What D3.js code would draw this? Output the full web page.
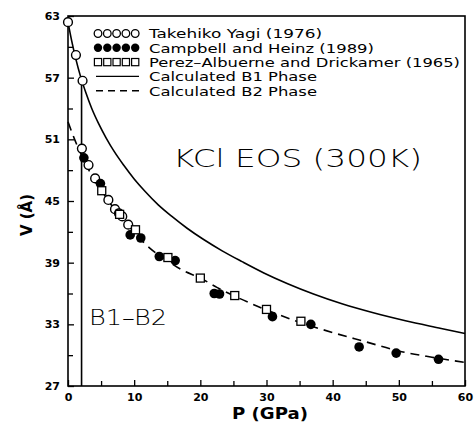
<!DOCTYPE html>
<html><head><meta charset="utf-8">
<script src="https://cdn.jsdelivr.net/npm/d3@7"></script>
<style>
html,body{margin:0;padding:0;background:#fff;}
svg{display:block;}
text{font-family:"DejaVu Sans",sans-serif;fill:#000;}
</style></head>
<body>
<svg id="chart" width="474" height="423"></svg>
<script>
// ---- data ----
const yagiP = [0, 1.2, 2.2, 2.1, 3.1, 4.1, 6.1, 7.1, 7.7, 8.2, 9.1];
const yagiV = [62.4, 59.2, 56.7, 50.1, 48.5, 47.2, 45.1, 44.2, 43.8, 43.5, 42.7];

const campP = [2.4, 4.9, 9.4, 11.0, 13.8, 16.2, 22.1, 22.9, 30.9, 36.7, 44.0, 49.6, 56.0];
const campV = [49.2, 46.7, 41.7, 41.4, 39.6, 39.2, 36.0, 35.95, 33.75, 33.0, 30.8, 30.2, 29.6];

const perezP = [5.1, 7.8, 10.2, 15.1, 20.0, 25.2, 30.0, 35.2];
const perezV = [46.0, 43.7, 42.2, 39.5, 37.5, 35.8, 34.45, 33.3];

const b1P = [0, 0.55, 1.17, 1.88, 2.69, 3.59, 4.61, 5.75, 7.0, 8.4, 10.0, 11.7, 13.6, 15.7, 18.0, 20.5, 23.3, 26.3, 29.6, 33.2, 37.1, 41.4, 46.0, 51.0, 56.4, 60];
const b1V = [62.4, 60.6, 58.85, 57.15, 55.55, 54.0, 52.55, 51.15, 49.8, 48.5, 47.15, 45.9, 44.65, 43.5, 42.35, 41.25, 40.15, 39.1, 38.0, 36.95, 35.95, 35.0, 34.15, 33.35, 32.6, 32.1];

const b2P = [0, 1, 2, 3, 4, 5, 6, 8, 10, 12.4, 15, 17.2, 20, 22.5, 25, 30, 35, 40, 45, 50, 55, 60];
const b2V = [52.7, 51.0, 49.5, 48.2, 47.0, 46.1, 45.1, 43.5, 41.95, 40.4, 39.2, 38.3, 37.5, 36.6, 35.8, 34.4, 33.2, 32.2, 31.3, 30.4, 29.8, 29.3];

const transitionP = 2.05;
const transitionV = 57.0;

const xMajor = [0, 10, 20, 30, 40, 50, 60];
const xMinor = [5, 15, 25, 35, 45, 55];
const yMajor = [27, 33, 39, 45, 51, 57, 63];
const yMinor = [30, 36, 42, 48, 54, 60];

const legendLabels = ["Takehiko Yagi (1976)", "Campbell and Heinz (1989)", "Perez\u2013Albuerne and Drickamer (1965)", "Calculated B1 Phase", "Calculated B2 Phase"];
const legendWidths = [173, 225, 311, 168, 168];

const titleText = "KCl EOS (300K)";
const phaseText = "B1\u2013B2";
const xLabel = "P (GPa)";
const yLabel = "V (\u00C5)";

// ---- drawing ----
const svg = d3.select("#chart");
const L = 68, R = 465, T = 16, B = 386;
const x = d3.scaleLinear().domain([0, 60]).range([L, R]);
const y = d3.scaleLinear().domain([27, 63]).range([B, T]);

// frame
svg.append("rect").attr("x", L).attr("y", T).attr("width", R - L).attr("height", B - T)
  .attr("fill", "none").attr("stroke", "#000").attr("stroke-width", 1.6);

// axes (inward ticks)
const gx = svg.append("g").attr("transform", `translate(0,${B})`)
  .call(d3.axisBottom(x).tickValues(xMajor).tickSize(-6).tickPadding(7).tickFormat(d3.format("d")));
const gxm = svg.append("g").attr("transform", `translate(0,${B})`)
  .call(d3.axisBottom(x).tickValues(xMinor).tickSize(-5).tickFormat(""));
const gy = svg.append("g").attr("transform", `translate(${L},0)`)
  .call(d3.axisLeft(y).tickValues(yMajor).tickSize(-6).tickPadding(8).tickFormat(d3.format("d")));
const gym = svg.append("g").attr("transform", `translate(${L},0)`)
  .call(d3.axisLeft(y).tickValues(yMinor).tickSize(-5).tickFormat(""));
[gx, gxm, gy, gym].forEach(g => {
  g.select(".domain").remove();
  g.selectAll(".tick line").attr("stroke", "#000").attr("stroke-width", 1.3);
  g.selectAll(".tick text").attr("font-family", "DejaVu Sans").attr("font-weight", "bold")
    .attr("font-size", 11).attr("fill", "#000");
});

// axis titles
svg.append("text").attr("x", 270).attr("y", 419).attr("text-anchor", "middle")
  .attr("font-size", 15).attr("font-weight", "bold").attr("textLength", 76).attr("lengthAdjust", "spacingAndGlyphs")
  .text(xLabel);
svg.append("text").attr("transform", "translate(32,215) rotate(-90)").attr("text-anchor", "middle")
  .attr("font-size", 15).attr("font-weight", "bold").text(yLabel);

// B1-B2 transition line
svg.append("line").attr("x1", x(transitionP)).attr("x2", x(transitionP))
  .attr("y1", y(transitionV)).attr("y2", y(27)).attr("stroke", "#000").attr("stroke-width", 1.6);

// curves
const line = d3.line().x(d => x(d[0])).y(d => y(d[1])).curve(d3.curveMonotoneX);
svg.append("path").datum(b1P.map((p, i) => [p, b1V[i]])).attr("d", line)
  .attr("fill", "none").attr("stroke", "#000").attr("stroke-width", 1.6);
svg.append("path").datum(b2P.map((p, i) => [p, b2V[i]])).attr("d", line)
  .attr("fill", "none").attr("stroke", "#000").attr("stroke-width", 1.6).attr("stroke-dasharray", "9,6");

// markers
svg.append("g").selectAll("circle").data(yagiP.map((p, i) => [p, yagiV[i]])).join("circle")
  .attr("cx", d => x(d[0])).attr("cy", d => y(d[1])).attr("r", 4.4)
  .attr("fill", "#fff").attr("stroke", "#000").attr("stroke-width", 1.4);
svg.append("g").selectAll("circle").data(campP.map((p, i) => [p, campV[i]])).join("circle")
  .attr("cx", d => x(d[0])).attr("cy", d => y(d[1])).attr("r", 4.8).attr("fill", "#000");
svg.append("g").selectAll("rect").data(perezP.map((p, i) => [p, perezV[i]])).join("rect")
  .attr("x", d => x(d[0]) - 4).attr("y", d => y(d[1]) - 4).attr("width", 8).attr("height", 8)
  .attr("fill", "#fff").attr("stroke", "#000").attr("stroke-width", 1.3);

// legend
const lg = svg.append("g");
const rowY = i => 33.5 + i * 14.3;
const symX = d3.range(5).map(i => 98 + i * 9.3);
symX.forEach(cx => {
  lg.append("circle").attr("cx", cx).attr("cy", rowY(0)).attr("r", 3.8)
    .attr("fill", "#fff").attr("stroke", "#000").attr("stroke-width", 1.3);
  lg.append("circle").attr("cx", cx).attr("cy", rowY(1)).attr("r", 4.2).attr("fill", "#000");
  lg.append("rect").attr("x", cx - 3.6).attr("y", rowY(2) - 3.6).attr("width", 7.2).attr("height", 7.2)
    .attr("fill", "#fff").attr("stroke", "#000").attr("stroke-width", 1.2);
});
lg.append("line").attr("x1", 96).attr("x2", 139).attr("y1", rowY(3)).attr("y2", rowY(3))
  .attr("stroke", "#000").attr("stroke-width", 1.4);
lg.append("line").attr("x1", 96).attr("x2", 139).attr("y1", rowY(4)).attr("y2", rowY(4))
  .attr("stroke", "#000").attr("stroke-width", 1.4).attr("stroke-dasharray", "7,5");
legendLabels.forEach((t, i) => {
  lg.append("text").attr("x", 149).attr("y", rowY(i) + 4.8).attr("font-size", 13)
    .attr("textLength", legendWidths[i]).attr("lengthAdjust", "spacingAndGlyphs").text(t);
});

// annotations
svg.append("text").attr("x", 173).attr("y", 167).attr("font-size", 25).attr("font-weight", 200)
  .attr("textLength", 249).attr("lengthAdjust", "spacingAndGlyphs").text(titleText);
svg.append("text").attr("x", 89).attr("y", 325).attr("font-size", 21).attr("font-weight", 200)
  .attr("textLength", 78).attr("lengthAdjust", "spacingAndGlyphs").text(phaseText);
</script>
</body></html>
